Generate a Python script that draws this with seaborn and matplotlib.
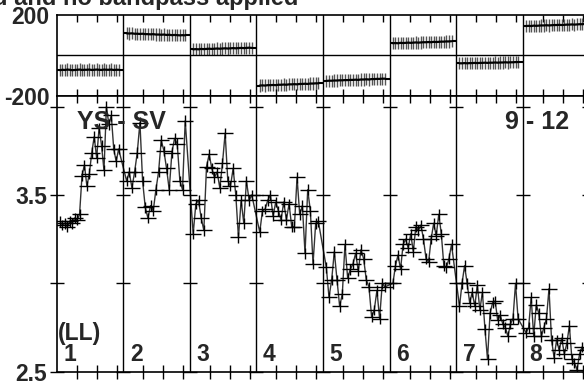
import numpy as np
import pandas as pd
import matplotlib.pyplot as plt
import seaborn as sns

# Amplitude per baseline panel
amp_1 = [3.35, 3.33, 3.34, 3.32, 3.35, 3.34, 3.37, 3.36, 3.39, 3.61, 3.67, 3.55, 3.62,
         3.74, 3.83, 3.71, 3.88, 3.78, 3.64, 4.00, 3.90, 3.95, 3.76, 3.69, 3.76]
amp_2 = [3.58, 3.63, 3.54, 3.63, 3.74, 3.91, 3.58, 3.43, 3.37, 3.44, 3.41, 3.53, 3.63,
         3.81, 3.75, 3.65, 3.53, 3.74, 3.82, 3.79, 3.58, 3.53, 3.92]
amp_3 = [3.28, 3.45, 3.47, 3.37, 3.30, 3.66, 3.73, 3.65, 3.60, 3.63, 3.54, 3.68, 3.85,
         3.58, 3.55, 3.65, 3.50, 3.26, 3.47, 3.34, 3.58, 3.47, 3.50]
amp_4 = [3.29, 3.41, 3.42, 3.47, 3.50, 3.38, 3.46, 3.41, 3.36, 3.46, 3.36, 3.45, 3.32,
         3.32, 3.60, 3.39, 3.44, 3.17, 3.53, 3.41, 3.11, 3.34, 3.35]
amp_5 = [3.09, 2.92, 3.02, 3.18, 3.02, 2.87, 2.94, 3.22, 3.03, 3.08, 3.11, 3.17, 3.07,
         3.19, 3.14, 3.02, 2.98, 2.81, 2.85, 2.96, 2.80, 3.00, 2.98]
amp_6 = [3.00, 3.10, 3.16, 3.08, 3.22, 3.25, 3.20, 3.28, 3.18, 3.32, 3.30, 3.33, 3.25,
         3.14, 3.12, 3.25, 3.34, 3.27, 3.39, 3.28, 3.10, 3.09, 3.14, 3.22]
amp_7 = [2.87, 3.00, 3.10, 3.00, 2.89, 2.95, 2.87, 2.99, 2.85, 2.95, 2.74, 2.57, 2.83,
         2.89, 2.90, 2.79, 2.82, 2.77, 2.75, 2.70, 2.77, 2.80, 3.00, 2.80]
amp_8 = [2.72, 2.75, 2.92, 2.70, 2.88, 2.83, 2.70, 2.75, 2.80, 2.97, 2.68, 2.58, 2.68,
         2.62, 2.69, 2.60, 2.66, 2.76, 2.57, 2.55, 2.51, 2.60, 2.64, 2.62]

# Phase per baseline panel (degrees)
ph_1 = [-74, -72, -73, -71, -72, -74, -73, -72, -71, -73, -72, -72, -71, -73, -72, -71,
        -72, -73, -71, -72, -72, -71, -73, -72, -72]
ph_2 = [108, 107, 108, 106, 106, 105, 106, 104, 104, 103, 104, 102, 102, 101, 102, 100,
        101, 99, 100, 99, 98, 99, 98]
ph_3 = [29, 30, 29, 31, 30, 31, 32, 31, 32, 33, 32, 33, 34, 33, 34, 35, 34, 35, 36, 35,
        36, 37, 36]
ph_4 = [-150, -149, -150, -148, -148, -147, -148, -146, -146, -145, -146, -144, -144,
        -143, -144, -142, -142, -141, -142, -140, -140, -139, -139]
ph_5 = [-127, -126, -126, -125, -125, -124, -124, -123, -123, -122, -122, -121, -122,
        -120, -120, -119, -120, -118, -118, -117, -117, -116, -116]
ph_6 = [59, 60, 59, 61, 60, 61, 62, 61, 62, 63, 62, 63, 64, 64, 65, 64, 66, 65, 66, 67,
        67, 68, 68, 69]
ph_7 = [-40, -40, -39, -40, -39, -39, -38, -39, -38, -38, -37, -38, -37, -37, -36, -37,
        -36, -36, -35, -36, -35, -35, -34, -34]
ph_8 = [144, 145, 144, 146, 145, 146, 147, 147, 148, 147, 148, 149, 149, 150, 149, 150,
        151, 151, 152, 151, 152, 153, 153, 154]

amps = [amp_1, amp_2, amp_3, amp_4, amp_5, amp_6, amp_7, amp_8]
phases = [ph_1, ph_2, ph_3, ph_4, ph_5, ph_6, ph_7, ph_8]
panel_labels = ['1', '2', '3', '4', '5', '6', '7', '8']
amp_ticks = [2.5, 3.0, 3.5, 4.0]
amp_ticklabels = ['2.5', '', '3.5', '']
ph_ticks = [-200, 200]
ph_ticklabels = ['-200', '200']

# Tabla larga con la posicion de cada punto dentro de su panel
rows = []
for i, (a, p) in enumerate(zip(amps, phases)):
    t = i + np.linspace(0.05, 0.93, len(a))
    for x, av, pv in zip(t, a, p):
        rows.append({'panel': i, 'x': x, 'amp': av, 'phase': pv})
df = pd.DataFrame(rows)

sns.set_style('white')
plt.rcParams['font.family'] = ['Liberation Sans', 'DejaVu Sans']
plt.rcParams['font.weight'] = 'bold'
FS = 16.5

fig = plt.figure(figsize=(5.84, 3.82), dpi=100)
ax_ph = fig.add_axes([0.0971, 0.7495, 0.912, 0.212])
ax_amp = fig.add_axes([0.0971, 0.027, 0.912, 0.7225])

# Fase: barras de error grises y linea negra por panel
for i, g in df.groupby('panel'):
    ax_ph.errorbar(g['x'], g['phase'], yerr=30, fmt='none', ecolor='#555555',
                   elinewidth=1, capsize=0)
    sns.lineplot(data=g, x='x', y='phase', ax=ax_ph, color='black', lw=1.6,
                 estimator=None, sort=False)
    ax_ph.hlines([g['phase'].iloc[0], g['phase'].iloc[-1]],
                 [i, g['x'].iloc[-1]], [g['x'].iloc[0], i + 1],
                 color='black', lw=1.5)
ax_ph.axhline(0, color='black', lw=1)

# Amplitud: una sola linea continua con marcas "+"
sns.lineplot(data=df, x='x', y='amp', ax=ax_amp, color='#333333', lw=1,
             estimator=None, sort=False)
ax_amp.errorbar(df['x'], df['amp'], yerr=0.03, fmt='_', ms=12, mew=1,
                color='black', elinewidth=1, capsize=0)

# Separadores de panel
for ax in (ax_ph, ax_amp):
    for b in range(1, 8):
        ax.axvline(b, color='black', lw=1)
    ax.set_xlim(0, 8)
    for s in ax.spines.values():
        s.set_color('black')
        s.set_linewidth(1.2)
    ax.set_xlabel('')
    ax.set_ylabel('')

for b in range(0, 9):
    ax_amp.plot([b] * len(amp_ticks), amp_ticks, ls='none', marker='_', ms=10,
                mew=1, color='black', clip_on=False)

xt = [i + f for i in range(8) for f in (0.3, 0.6, 0.9)]
ax_ph.set_xticks(xt)
ax_ph.tick_params(axis='x', direction='in', top=True, bottom=False, length=5,
                  width=1, labelbottom=False, color='black')
ax_amp.set_xticks(xt)
ax_amp.tick_params(axis='x', direction='inout', top=True, bottom=True, length=10,
                   width=1, labelbottom=False, color='black')

ax_ph.set_ylim(-200, 200)
ax_ph.set_yticks(ph_ticks)
ax_ph.set_yticklabels(ph_ticklabels, fontsize=FS, fontweight='bold')
ax_ph.tick_params(axis='y', length=0, pad=5)

ax_amp.set_ylim(2.5, 4.062)
ax_amp.set_yticks(amp_ticks)
ax_amp.set_yticklabels(amp_ticklabels, fontsize=FS, fontweight='bold')
ax_amp.tick_params(axis='y', length=0, pad=7)

tr = ax_amp.get_xaxis_transform()
ax_amp.text(0.97, 0.905, 'YS - SV', transform=tr, ha='center', va='center',
            fontsize=18, fontweight='bold')
ax_amp.text(7.21, 0.905, '9 - 12', transform=tr, ha='center', va='center',
            fontsize=18, fontweight='bold')
ax_amp.text(0.015, 0.14, '(LL)', transform=tr, ha='left', va='center',
            fontsize=FS, fontweight='bold')
for i, lab in enumerate(panel_labels):
    ax_amp.text(i + 0.1, 0.064, lab, transform=tr, ha='left', va='center',
                fontsize=FS, fontweight='bold')

fig.text(298 / 584, 1 - 5 / 382, 'Amplitude: calibrated and no bandpass applied',
         ha='right', va='baseline', fontsize=17, fontweight='bold')

plt.savefig('out.png', dpi=100)
